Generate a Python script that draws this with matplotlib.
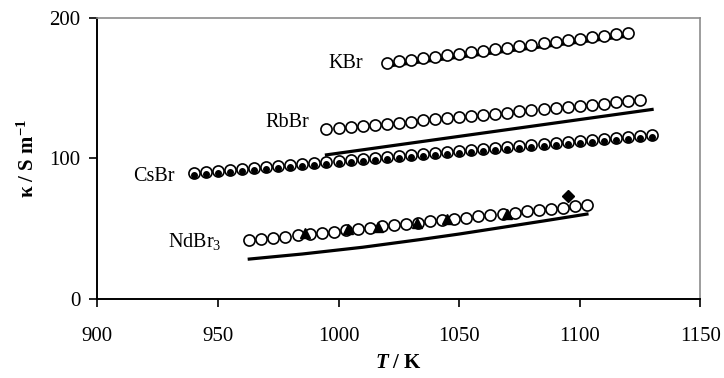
import numpy as np
import matplotlib
matplotlib.use("Agg")
import matplotlib.pyplot as plt
import matplotlib.transforms as mtransforms

plt.rcParams['font.family'] = ['Liberation Serif', 'DejaVu Serif']
plt.rcParams['mathtext.fontset'] = 'custom'
plt.rcParams['mathtext.rm'] = 'Liberation Serif'
plt.rcParams['mathtext.it'] = 'Liberation Serif:italic'
plt.rcParams['mathtext.bf'] = 'Liberation Serif:bold'
plt.rcParams['mathtext.bfit'] = 'Liberation Serif:italic:bold'

T_kbr = np.arange(1020, 1121, 5)
k_kbr = [168.0, 169.1, 170.2, 171.3, 172.4, 173.4, 174.5, 175.5, 176.6, 177.7, 178.7,
         179.8, 180.9, 181.9, 183.0, 184.0, 185.1, 186.2, 187.3, 188.4, 189.5]

T_rbbr = np.arange(995, 1126, 5)
k_rbbr = [120.6, 121.4, 122.2, 123.0, 123.8, 124.6, 125.4, 126.2, 127.0, 127.8, 128.6,
          129.4, 130.2, 131.0, 131.8, 132.6, 133.4, 134.2, 135.0, 135.8, 136.6, 137.4,
          138.2, 139.0, 139.8, 140.6, 141.4]

T_csbr = np.arange(940, 1131, 5)
k_csbr = [89.3, 90.0, 90.7, 91.4, 92.2, 92.9, 93.6, 94.3, 95.0, 95.7, 96.5, 97.2, 97.9,
          98.6, 99.3, 100.0, 100.8, 101.5, 102.2, 102.9, 103.6, 104.3, 105.1, 105.8,
          106.5, 107.2, 107.9, 108.6, 109.4, 110.1, 110.8, 111.5, 112.2, 112.9, 113.7,
          114.4, 115.1, 115.8, 116.5]

T_ndbr = np.arange(963, 1104, 5)
k_ndbr = [41.7, 42.6, 43.5, 44.4, 45.3, 46.2, 47.1, 48.0, 48.9, 49.8, 50.7, 51.6, 52.5,
          53.4, 54.3, 55.2, 56.0, 56.9, 57.8, 58.7, 59.6, 60.5, 61.4, 62.3, 63.2, 64.1,
          65.0, 65.9, 66.8]

# other literature points for NdBr3
T_tri = [986.2, 1003.8, 1016.5, 1032.7, 1045.1, 1069.7]
k_tri = [46.7, 49.5, 51.4, 54.2, 56.6, 60.6]
T_dia = [1095.3]
k_dia = [73.4]

# reference lines
T_kbr_line = [1020, 1120]
k_kbr_line = [165.6, 187.0]
T_rbbr_line = [995, 1130]
k_rbbr_line = [102.5, 134.8]
T_ndbr_line = [963, 985, 1010, 1034, 1050, 1067, 1085, 1103]
k_ndbr_line = [28.4, 32.0, 36.8, 42.3, 46.2, 50.7, 55.5, 60.4]

fig = plt.figure(figsize=(7.24, 3.78), dpi=100)
ax = fig.add_axes([0.1344, 0.209, 0.8329, 0.744])

lw = 2.3
ax.plot(T_kbr_line, k_kbr_line, color='black', lw=lw, zorder=2)
ax.plot(T_rbbr_line, k_rbbr_line, color='black', lw=lw, zorder=2)
ax.plot(T_ndbr_line, k_ndbr_line, color='black', lw=lw, zorder=2)

circ = dict(ls='none', marker='o', ms=8.0, mfc='white', mec='black', mew=1.2, zorder=3)
ax.plot(T_kbr, k_kbr, **circ)
ax.plot(T_rbbr, k_rbbr, **circ)
ax.plot(T_csbr, k_csbr, **circ)
ax.plot(T_ndbr, k_ndbr, **circ)

# filled dot inside CsBr circles, sitting a bit low
shift = mtransforms.ScaledTranslation(0, -1.0 / 72, fig.dpi_scale_trans)
ax.plot(T_csbr, k_csbr, ls='none', marker='o', ms=4.0, mfc='black', mec='black',
        zorder=4, transform=ax.transData + shift)

ax.plot(T_tri, k_tri, ls='none', marker='^', ms=7.5, mfc='black', mec='black', zorder=5)
ax.plot(T_dia, k_dia, ls='none', marker='D', ms=6, mfc='black', mec='black', zorder=5)

fs = 14.5
ax.text(996.0, 167.7, 'KBr', fontsize=fs, ha='left', va='center')
ax.text(969.5, 125.3, 'RbBr', fontsize=fs, ha='left', va='center')
ax.text(914.7, 86.9, 'CsBr', fontsize=fs, ha='left', va='center')
ax.text(929.4, 40.7, r'NdBr$_3$', fontsize=fs, ha='left', va='center')

ax.set_xlim(900, 1150)
ax.set_ylim(0, 200)
ax.set_xticks([900, 950, 1000, 1050, 1100, 1150])
ax.set_yticks([0, 100, 200])
ax.tick_params(direction='out', length=6, width=1.2, labelsize=15, pad=6)
ax.tick_params(axis='x', pad=14)

for s in ('top', 'right'):
    ax.spines[s].set_color('#8c8c8c')
    ax.spines[s].set_linewidth(1.2)
for s in ('left', 'bottom'):
    ax.spines[s].set_color('black')
    ax.spines[s].set_linewidth(1.4)

ax.set_xlabel(r'$\mathbfit{T}$ / K', fontsize=15, fontweight='bold', labelpad=5)
ax.set_ylabel(r'κ / S m$^{\mathbf{-1}}$', fontsize=15, fontweight='bold', labelpad=8)

fig.savefig('out.png', dpi=100)
